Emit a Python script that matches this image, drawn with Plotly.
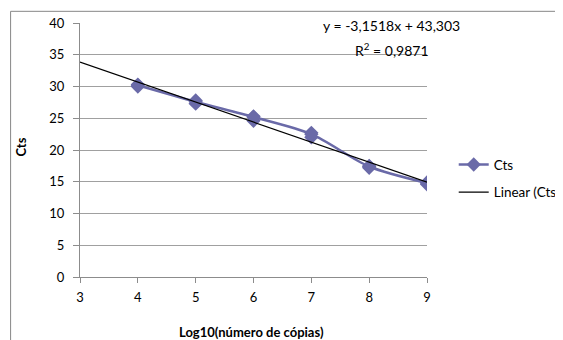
import plotly.graph_objects as go

# Data
log_copies = [4, 5, 6, 7, 8, 9]
cts_line = [30.2, 27.6, 25.2, 22.5, 17.4, 14.8]
cts_rep_a = [30.3, 27.8, 25.3, 22.7, 17.5, 14.9]
cts_rep_b = [30.0, 27.3, 24.6, 22.0, 17.2, 14.6]
trend_x = [3, 9]
slope = -3.1518
intercept = 43.303
r2 = 0.9871
x_ticks = [3, 4, 5, 6, 7, 8, 9]
y_ticks = [0, 5, 10, 15, 20, 25, 30, 35, 40]

trend_y = [slope * v + intercept for v in trend_x]

FONT = "Lato, 'Open Sans', sans-serif"
SERIES = "#6a6aa8"

fig = go.Figure()

fig.add_trace(go.Scatter(
    x=log_copies + log_copies, y=cts_rep_a + cts_rep_b, mode="markers",
    marker=dict(symbol="diamond", size=11, color=SERIES),
    showlegend=False, hoverinfo="skip"))

fig.add_trace(go.Scatter(
    x=log_copies, y=cts_line, mode="lines+markers", name="Cts",
    line=dict(color=SERIES, width=2.5, shape="spline", smoothing=0.8),
    marker=dict(symbol="diamond", size=11, color=SERIES),
    legendgroup="a"))

fig.add_trace(go.Scatter(
    x=trend_x, y=trend_y, mode="lines", name="Linear (Cts)",
    line=dict(color="black", width=1.2), legendgroup="b"))

fig.update_layout(
    width=555, height=332,
    margin=dict(l=71.5, r=136, t=14.7, b=63, autoexpand=False),
    paper_bgcolor="white", plot_bgcolor="white",
    font=dict(family=FONT, size=13, color="black"),
    xaxis=dict(range=[3, 9], tickvals=x_ticks, showgrid=False, zeroline=False,
               showline=True, linecolor="#8c8c8c", linewidth=1,
               ticks="outside", ticklen=5, tickcolor="#8c8c8c",
               tickfont=dict(size=13), ticklabelstandoff=3, fixedrange=True),
    yaxis=dict(range=[0, 40], tickvals=y_ticks, showgrid=True, gridcolor="#a0a0a0",
               gridwidth=1, zeroline=False, showline=True, linecolor="#8c8c8c",
               linewidth=1, ticks="outside", ticklen=6, tickcolor="#8c8c8c",
               tickfont=dict(size=13), ticklabelstandoff=6),
    legend=dict(x=1.077, y=0.503, xanchor="left", yanchor="top",
                font=dict(size=13.5), itemwidth=30, tracegroupgap=7,
                traceorder="grouped", bgcolor="rgba(0,0,0,0)"),
    showlegend=True,
)

fig.add_annotation(text="y = -3,1518x + 43,303", xref="paper", yref="paper",
                   x=0.899, y=0.991, xanchor="center", yanchor="middle",
                   showarrow=False, font=dict(size=14), bgcolor="white",
                   borderpad=0)
fig.add_annotation(text="R<sup>2</sup> = 0,9871", xref="paper", yref="paper",
                   x=0.899, y=0.897, xanchor="center", yanchor="middle",
                   showarrow=False, font=dict(size=14))
fig.add_annotation(text="<b>Cts</b>", xref="paper", yref="paper",
                   x=-0.169, y=0.511,
                   xanchor="center", yanchor="middle", textangle=-90,
                   showarrow=False, font=dict(size=13))
fig.add_annotation(text="<b>Log10(número de cópias)</b>", xref="paper", yref="paper",
                   x=0.494, y=-0.217,
                   xanchor="center", yanchor="middle",
                   showarrow=False, font=dict(size=13))

# outer chart-area border
fig.add_shape(type="rect", xref="paper", yref="paper",
              x0=-0.200, x1=1.8, y0=-0.5, y1=1.046,
              line=dict(color="#868686", width=1), fillcolor="rgba(0,0,0,0)",
              layer="below")

fig.write_html("out.html")
